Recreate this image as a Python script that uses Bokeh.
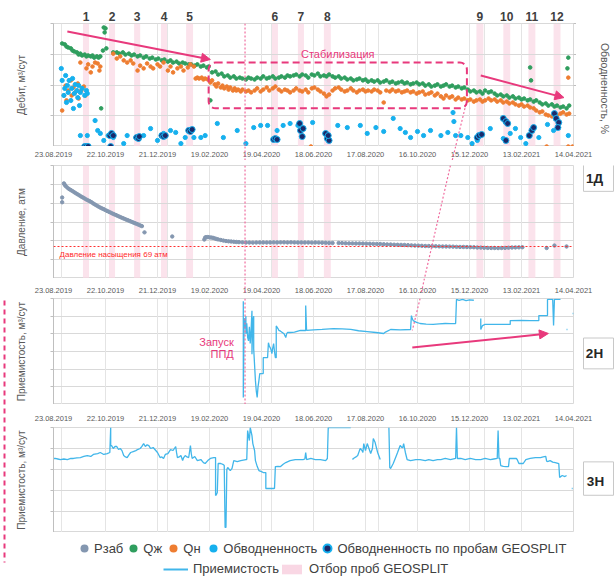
import numpy as np
import pandas as pd
from bokeh.plotting import figure
from bokeh.models import (Range1d, LinearAxis, FixedTicker, ColumnDataSource, Grid,
                          Label, Span, BoxAnnotation, Arrow, NormalHead, Legend, LegendItem)
from bokeh.core.properties import value
from bokeh.layouts import row, column
from bokeh.embed import file_html
from bokeh.resources import INLINE

# ---------------- data ----------------
START = "2019-08-23"
END = "2021-04-14"
x_tick_labels = ["23.08.2019", "22.10.2019", "21.12.2019", "19.02.2020", "19.04.2020", "18.06.2020",
                 "17.08.2020", "16.10.2020", "15.12.2020", "13.02.2021", "14.04.2021"]
sample_labels = ["1", "2", "3", "4", "5", "6", "7", "8", "9", "10", "11", "12"]
band_start = ["2019-09-26", "2019-10-26", "2019-11-24", "2019-12-25", "2020-01-23", "2020-05-01",
              "2020-05-31", "2020-06-30", "2020-12-23", "2021-01-23", "2021-02-21", "2021-03-22"]
band_end = ["2019-10-03", "2019-11-02", "2019-12-01", "2020-01-01", "2020-01-31", "2020-05-08",
            "2020-06-07", "2020-07-08", "2020-12-31", "2021-01-31", "2021-03-01", "2021-03-30"]
launch_date = "2020-03-31"
p_saturation = 69
well_names = ["1Д", "2Н", "3Н"]

# (day since START, value)
q_liquid = [(10,33.5),(13,33.2),(15,32.5),(17,32.2),(20,31.9),(22,31.2),(24,30.9),(27,30.6),(29,29.9),(31,30.2),
 (33,29.6),(36,29.9),(38,29.3),(40,29.6),(43,29.3),(45,29.6),(47,28.9),(50,29.3),(52,28.9),(54,29.3),
 (55,12.4),(57,31.2),(58,38.7),(59,37.1),(60,38.4),(61,31.9),
 (69,30.6),(73,30.6),(76,30.2),(80,30.6),(83,29.9),(87,30.2),(90,29.6),(93,29.9),(97,29.3),(100,29.6),
 (104,28.9),(107,29.3),(111,28.6),(114,28.9),(118,28.3),(121,28.6),(125,28.0),(128,28.3),(132,27.6),(135,28.0),
 (138,27.3),(142,27.6),(145,27.0),(149,27.3),(152,27.0),(156,26.7),(159,26.7),(163,26.3),(166,26.7),(170,26.0),
 (173,26.3),(177,25.7),(179,26.0),(181,15.0),
 (183,24.1),(187,24.4),(190,23.4),(194,23.7),(197,22.8),(201,23.1),(204,22.4),(208,22.8),(211,22.1),(215,22.4),
 (218,22.1),(222,21.8),(225,22.4),(228,22.1),(232,21.8),(235,22.4),(239,22.1),(242,22.8),(246,22.1),(249,22.4),
 (253,22.8),(256,22.1),(260,22.4),(263,22.8),(267,22.4),(270,23.1),(273,22.8),(277,23.1),(280,23.4),(284,22.8),
 (287,23.4),(291,23.1),(294,22.4),(298,23.4),(301,23.1),(305,23.7),(308,22.8),(312,23.1),(315,22.8),(318,23.4),
 (322,22.8),(325,22.4),(329,22.8),(332,22.1),(336,22.4),(339,21.8),(343,22.1),(346,21.5),(350,21.8),(353,22.1),
 (357,21.5),(360,21.8),(363,21.1),(367,21.5),(370,21.1),(374,21.5),(377,20.8),(381,21.1),(384,21.5),(388,20.8),
 (391,21.1),(395,20.5),(398,20.8),(402,21.1),(405,20.5),(408,20.8),(412,20.2),(415,20.5),(419,20.8),(422,20.2),
 (426,20.5),(429,19.8),(433,20.2),(436,19.5),(440,19.8),(443,20.2),(447,19.5),(450,19.8),(453,20.2),(457,19.5),
 (460,19.8),(464,19.2),(467,19.5),(471,18.9),(474,19.2),(478,18.5),(481,17.9),(485,18.2),(488,17.6),(492,17.9),
 (495,17.2),(498,18.2),(502,17.6),(505,17.9),(509,17.2),(512,16.6),(516,16.9),(519,16.3),(523,16.6),(526,15.9),
 (530,16.3),(533,15.6),(537,15.9),(540,15.3),(543,15.6),(547,15.0),(550,15.3),(554,14.6),(557,15.0),(561,14.3),
 (564,13.7),(568,14.0),(571,13.3),(575,13.7),(578,13.0),(581,13.3),(585,12.7),(588,13.0),(592,12.4),(595,13.3),
 (550,25.7),(551,21.5),(594,28.9),(593,25.4)]

q_oil = [(10,11.7),(12,16.6),(14,19.8),(15,15.0),(17,18.2),(20,21.5),(21,16.6),(23,19.2),(25,17.6),(28,20.5),
 (29,15.6),(31,27.3),(32,18.2),(35,19.5),(37,16.6),(38,25.4),(40,26.7),(43,24.1),(45,26.0),(48,27.3),
 (51,27.0),(53,24.7),(54,26.0),
 (69,30.2),(73,28.6),(77,29.3),(81,28.0),(85,27.3),(89,28.0),(92,27.0),(97,24.7),(100,26.3),(104,25.4),
 (108,27.0),(112,26.0),(115,25.4),(120,26.7),(123,26.0),(127,27.3),(132,24.7),(135,26.0),(138,24.1),(143,25.4),
 (147,26.0),(150,24.7),(155,25.7),(158,26.7),(162,26.0),
 (164,22.1),(166,22.4),(168,22.1),(171,22.4),(173,21.8),(175,22.1),(178,21.8),
 (181,20.8),(183,21.5),(186,20.2),(188,19.5),(190,20.5),(193,19.2),(195,19.8),(197,18.9),(200,19.5),(202,18.5),
 (204,19.2),(207,18.2),(209,18.9),(211,18.2),(213,18.5),(216,17.9),(218,18.5),(222,17.9),(225,18.2),(228,17.6),
 (232,18.2),(235,18.9),(239,17.9),(242,18.5),(246,19.2),(249,18.2),(253,18.9),(256,19.5),(260,18.5),(263,17.9),
 (267,18.5),(270,18.2),(273,17.6),(277,18.2),(280,18.9),(284,18.2),(287,17.9),(291,18.5),(294,17.6),(298,18.9),
 (301,19.2),(305,18.5),(308,17.9),(312,17.2),(315,16.3),(318,16.9),(322,18.2),(325,18.9),(329,19.2),(332,18.5),
 (336,17.9),(339,18.2),(343,18.9),(346,18.2),(350,17.6),(353,18.2),(357,18.5),(360,17.9),(363,18.2),(367,17.9),
 (370,18.5),(374,18.2),(377,17.6),(381,14.3),(384,18.2),(388,17.9),(391,18.5),(395,17.9),(398,18.2),(402,17.6),
 (405,17.9),(408,18.2),(412,17.6),(415,17.9),(419,17.2),(422,17.6),(426,17.9),(429,16.9),(433,17.2),(436,17.6),
 (440,16.6),(443,17.2),(447,16.3),(450,15.6),(453,16.6),(457,15.9),(460,16.3),(464,15.3),(467,15.9),(471,15.3),
 (474,15.6),(478,15.0),(481,15.3),(485,14.6),(488,15.0),(492,15.3),(495,14.6),(498,15.0),(502,15.6),(505,15.0),
 (509,15.3),(512,14.6),(516,15.0),(519,14.3),(523,14.6),(526,14.0),(530,14.3),(533,13.7),(537,13.3),(540,13.7),
 (543,13.0),(547,13.3),(550,12.7),(554,12.4),(557,11.7),(561,11.1),(564,11.4),(568,10.4),(571,10.1),(575,9.8),
 (578,10.4),(581,10.1),(585,10.7),(588,11.1),(592,10.4),(595,10.7),
 (594,22.4),(297,0.0),(483,0.0),(569,0.0),(594,0.0),(599,0.0)]

water_cut = [(9,63.4),(10,53.7),(12,41.5),(13,47.2),(14,57.7),(15,35.8),(16,49.6),(17,43.9),(18,53.7),(20,37.4),
 (21,47.2),(22,55.3),(23,30.9),(24,43.1),(25,50.4),(27,45.5),(28,39.8),(29,49.6),(30,33.3),(31,43.9),
 (33,47.2),(36,41.5),(38,45.5),(39,43.1),
 (31,8.9),(39,8.9),(48,21.1),(51,13.0),(54,10.6),(58,4.9),(63,8.9),(69,7.3),(81,2.4),(85,8.9),
 (95,7.3),(104,8.9),(112,14.6),(120,4.9),(127,10.6),(135,13.0),(141,11.4),(147,2.4),(152,7.3),(162,7.3),
 (170,7.3),(175,8.9),(189,18.7),(196,7.3),(212,13.0),(222,2.4),(231,15.4),(239,17.1),(247,17.1),(258,13.0),
 (265,17.1),(273,18.7),(282,17.1),(299,19.5),(328,17.1),(339,15.4),(354,17.1),(362,10.6),(372,15.4),(381,12.2),
 (392,22.8),(400,14.6),(406,11.4),(412,7.3),(420,12.2),(427,8.9),(435,13.0),(447,8.9),(455,11.4),(461,27.6),
 (462,20.3),(464,8.9),(470,8.9),(478,7.3),(483,2.4),(489,4.9),(504,14.6),(519,6.5),(527,10.6),(533,14.6),
 (539,7.3),(545,2.4),(560,7.3),(570,17.9),(577,13.0),(594,8.9)]

water_cut_geosplit = [(36,0.0),(38,0.0),(40,0.0),(65,8.9),(67,10.6),(69,8.9),(66,0.0),(96,7.3),(98,6.5),(99,8.1),
 (125,8.9),(127,8.1),(129,8.9),(156,13.0),(158,12.2),(160,13.8),(254,5.7),(256,6.5),(258,5.7),
 (284,18.7),(285,13.0),(287,8.1),(288,14.6),(314,10.6),(316,6.5),(318,4.9),(317,8.9),
 (489,7.3),(491,8.9),(494,9.8),(519,22.8),(522,20.3),(524,18.7),(522,4.9),(549,8.9),(552,13.0),(554,15.4),
 (578,26.8),(580,22.8),(583,19.5),(582,15.4)]

p_bottom = [(10,121),(10,116),(12,136.0),(13,134.5),(14,133.2),(16,131.5),(18,130.0),(20,128.9),(22,127.8),(24,126.6),
 (26,125.4),(28,124.3),(30,123.2),(32,122.0),(34,121.0),(36,119.9),(38,118.8),(40,117.9),(42,117.0),(44,115.9),
 (46,114.6),(48,113.5),(50,112.4),(52,111.3),(54,110.3),(56,109.4),(58,108.6),(60,107.6),(62,106.7),(64,105.8),
 (66,104.9),(68,104.0),(70,103.2),(72,102.4),(74,101.5),(76,100.7),(78,99.9),(80,99.1),(82,98.3),(84,97.5),
 (86,96.8),(88,96.0),(90,95.2),(92,94.5),(94,93.7),(96,93.0),(98,92.2),(100,91.4),(102,90.6),(105,84.0),(137,79.6),
 (174,76.4),(175,78.5),(176,78.8),(178,79.0),(180,78.7),(182,78.5),(184,78.2),(186,77.6),(188,77.0),(190,76.5),
 (193,75.9),(196,75.3),(199,74.8),(202,74.5),(205,74.3),(208,74.0),(211,73.8),(214,73.6),(218,73.4),(222,73.2),
 (226,73.2),(230,73.1),(234,73.2),(238,73.3),(242,73.3),(246,73.2),(250,73.3),(254,73.4),(258,73.3),(262,73.4),
 (266,73.4),(270,73.3),(274,73.4),(278,73.3),(282,73.2),(286,73.3),(290,73.2),(294,73.2),(298,73.1),(302,73.2),
 (306,73.1),(310,73.0),(314,72.9),(318,72.8),(322,72.7),(329,72.7),(333,72.6),(337,72.4),(341,72.3),(345,72.3),
 (349,72.2),(353,72.2),(357,72.1),(361,72.0),(365,71.9),(369,71.8),(373,71.7),(377,71.6),(381,71.4),(385,71.2),
 (389,71.1),(393,70.9),(397,70.8),(401,70.7),(405,70.6),(409,70.4),(413,70.2),(417,70.0),(421,69.9),(425,69.7),
 (429,69.5),(433,69.5),(437,69.4),(441,69.3),(445,69.1),(449,69.0),(453,69.0),(457,68.9),(461,68.8),(465,68.6),
 (469,68.5),(473,68.5),(477,68.4),(481,68.3),(485,68.2),(489,67.9),(493,67.8),(497,67.6),(501,67.5),(505,67.4),
 (509,67.4),(513,67.3),(517,67.4),(521,67.5),(525,67.7),(529,67.9),(533,68.0),(537,68.1),(541,68.2),
 (569,67.4),(578,70.0),(592,69.0)]

inj_2h = [(219,117),(219,8),(220,98),(221,86),(222,100),(222,80),(223,92),(224,76),(225,72),(226,88),(227,69),
 (228,85),(229,106),(229,57),(230,95),(231,100),(231,63),(232,45),(233,27),(234,15),(235,8),(236,20),(237,27),
 (238,35),(241,35),(242,35),(242,53),(246,53),(247,53),(248,70),(249,66),(250,64.5),(251,62),(252,57.7),(253,64),
 (254,69),(255,60),(256,53),(257,53),(257,89),(259,86),(260,84),(262,83),(264,81.5),(266,80),(268,75.8),(269,80),
 (270,81.5),(273,81.5),(278,82),(285,83.8),(291,83.8),(291,112),(292,84),(300,84.5),(310,85),(323,86),(333,85.5),
 (343,85),(352,83.5),(362,82.6),(372,81.5),(381,80.4),(383,82),(389,84.9),(400,84.5),(412,84.9),(413,100.7),
 (414,97),(415,95),(419,93),(423,91.7),(430,91),(438,90.6),(445,91.2),(452,91.7),(458,91.5),(464,91.7),(465,119),
 (468,118),(472,119),(476,117.5),(480,118.5),(485,118),(486,None),
 (493,97.4),(493,84.9),(495,89.4),(498,90.6),(501,90.6),(510,90.8),(520,90.6),(527,90.6),(527,95),(540,95.2),
 (550,95),(560,95),(560,100.7),(565,100.7),(570,100.7),(570,119),(576,119),(577,89.4),(578,119),(585,119),(586,None),
 (592,84.9),(593,84.9),(594,None),(599,103),(600,103)]

inj_3h = [(0,70.5),(2,70.5),(5,70),(8,69.5),(12,70),(16,69.5),(20,70.5),(23,70.5),(27,71),(31,71.4),(35,72.4),
 (39,73.3),(43,72.4),(46,74.3),(51,75.2),(54,76.2),(58,74.3),(62,75.2),(65,76.2),(66,100),(66,82.8),(67,82.8),
 (69,80),(71,82),(73,81.9),(75,79),(77,80),(79,78),(81,73.3),(83,72),(85,71.4),(87,74),(89,76.2),(92,77.1),
 (95,78),(97,79),(100,80),(102,82),(104,84.7),(106,81.9),(108,83.5),(110,82.8),(112,80),(115,80.9),(118,78.1),
 (120,76.2),(123,71.4),(125,72),(127,70.5),(129,74.3),(132,75.2),(135,79),(138,78.1),(141,81.9),(142,76),
 (143,71.4),(145,72),(147,73.3),(149,68.5),(150,71),(152,73.3),(154,72),(156,71.4),(158,82.8),(159,75),
 (160,70.5),(163,72.4),(166,68.5),(168,69),(170,69.5),(173,66.6),(175,65.7),(178,68.5),(181,70.5),(185,71.4),
 (187,71.4),(187,35.2),(188,36.2),(189,38.1),(190,65.7),(193,65.7),(196,64.7),(197,63.8),(198,4.8),(199,4.8),
 (200,60),(201,61.9),(204,59),(206,61),(208,68.5),(212,67.6),(216,68.5),(219,69),(222,69.5),(223,69.5),
 (224,97.1),(226,87.6),(227,100),(229,92.3),(230,84.7),(232,78.1),(233,68.5),(235,63),(237,59),(240,58),
 (242,57.1),(245,57.1),(245,41.9),(250,41.9),(254,41.9),(255,42),(256,62.8),(259,63),(262,62.8),(265,65),
 (268,66.6),(273,68.5),(279,69.5),(285,69.5),(288,69.5),(290,70),(291,76.2),(292,69.5),(297,70.5),(302,69.5),
 (308,69.5),(314,68.5),(316,70.5),(317,100),(325,100),(335,100),(343,100),(344,None),
 (345,69.5),(346,70.5),(349,72),(351,73.3),(353,78),(354,80),(356,78),(357,76.2),(358,84.7),(360,78.1),
 (362,84.7),(364,80),(366,75.2),(368,80),(369,89.5),(371,86),(372,82.8),(374,76.2),(377,69.5),(378,None),
 (387,100),(388,61.9),(389,61),(392,65.7),(395,72),(397,76.2),(400,82.8),(402,81),(403,80.9),(404,84.7),
 (406,76.2),(408,69.5),(412,68.5),(418,69.5),(423,69.5),(429,68.5),(433,69.5),(438,68.5),(443,69.5),(447,69.5),
 (452,70.5),(458,69.5),(464,70.5),(465,100),(466,70.5),(470,70.5),(475,69.5),(481,70.5),(487,69.5),(493,69.5),
 (498,70.5),(504,69.5),(508,70),(512,70.5),(513,97.1),(514,70.5),(515,70.5),(516,63.8),(519,63),(522,62.8),
 (525,62.8),(526,70.5),(531,70.5),(534,70.5),(535,69.5),(537,65.7),(542,65.7),(545,69.5),(550,70.5),(556,71.4),
 (562,71.4),(565,72),(568,72.4),(569,68),(570,67.6),(573,68.5),(576,67),(579,66.6),(583,65.7),(584,52.4),
 (587,54.3),(590,53.3),(592,54.3),(593,None),(598,41.9),(599,41.9)]

# ---------------- style / layout ----------------
FONT = "Liberation Sans"
C_GREEN = "#2f9e5e"
C_ORANGE = "#ee7d31"
C_BLUE = "#16b0ee"
C_NAVY = "#1b2a6b"
C_PRES = "#8497b0"
C_INJ = "#41b6ea"
C_PINK = "#e8397c"
C_PINK_L = "#f06c9f"
C_BAND = "#f9d7e4"
C_GRID = "#d9d9d9"
C_TEXT = "#595959"

FULL_W = 607      # page x 8..615
MAIN_W = 568      # main panels: x 8..576, frame 53..573
SIDE_W = 39       # right strips: x 576..615
BORDER_L = 45
PX_PER_DAY = 520 / 600
t0 = pd.Timestamp(START)


def to_dt(days):
    return (t0 + pd.to_timedelta(np.asarray(days, dtype=float), unit="D")).values


def day_ms(d):
    return (t0 + pd.Timedelta(days=d)).value / 1e6


def date_ms(s):
    return pd.Timestamp(s).value / 1e6


def src(pairs):
    days = [d for d, v in pairs]
    vals = [np.nan if v is None else v for d, v in pairs]
    return ColumnDataSource(dict(x=to_dt(days), y=vals))


tick_ms = [date_ms(pd.to_datetime(s, format="%d.%m.%Y")) for s in x_tick_labels]
xr = Range1d(start=date_ms(START), end=date_ms(END))
# same time scale, but spanning the full page width (for label strips)
xr_full = Range1d(start=day_ms(-BORDER_L / PX_PER_DAY), end=day_ms((FULL_W - BORDER_L) / PX_PER_DAY))
band_src = ColumnDataSource(dict(left=pd.to_datetime(band_start).values, right=pd.to_datetime(band_end).values))


def bare(width, height, xrange, yrange):
    p = figure(width=width, height=height, x_range=xrange, y_range=yrange, output_backend="svg",
               toolbar_location=None, min_border=0, x_axis_location=None, y_axis_location=None)
    p.grid.visible = False
    p.outline_line_color = None
    p.background_fill_color = "white"
    p.border_fill_color = "white"
    return p


def style_yaxis(ax, ticks, label, standoff):
    ax.ticker = FixedTicker(ticks=ticks)
    ax.major_label_overrides = {t: "" for t in ticks}
    ax.major_label_text_font_size = "0px"
    ax.major_label_standoff = 0
    ax.major_tick_line_color = "#bfbfbf"
    ax.major_tick_out = 3
    ax.major_tick_in = 0
    ax.minor_tick_line_color = None
    ax.axis_label = label
    ax.axis_label_text_font = FONT
    ax.axis_label_text_font_size = "10px"
    ax.axis_label_text_font_style = "normal"
    ax.axis_label_text_color = C_TEXT
    ax.axis_label_standoff = standoff


def make_fig(height, ymin, ymax, yticks, top, ylabel):
    p = figure(width=MAIN_W, height=height, x_range=xr, y_range=Range1d(ymin, ymax), x_axis_type="datetime",
               x_axis_location=None, output_backend="svg", toolbar_location=None, min_border_left=BORDER_L,
               min_border_right=3, min_border_top=top, min_border_bottom=0)
    p.outline_line_color = C_GRID
    p.background_fill_color = "white"
    p.border_fill_color = "white"
    ya = p.yaxis[0]
    style_yaxis(ya, yticks, ylabel, 24)
    ya.axis_line_color = "#bfbfbf"
    p.ygrid.ticker = FixedTicker(ticks=yticks)
    p.ygrid.grid_line_color = C_GRID
    p.add_layout(Grid(dimension=0, ticker=FixedTicker(ticks=tick_ms), grid_line_color="#e4e4e4"))
    return p


def date_strip(height, label_y, launch=True, link=None):
    d = bare(FULL_W, height, xr_full, Range1d(height, 0))
    d.text(x=tick_ms, y=label_y, text=x_tick_labels, text_align="center", text_baseline="middle",
           text_font=value(FONT), text_font_size="7.5px", text_color=C_TEXT)
    if launch:
        lm = date_ms(launch_date)
        d.segment(x0=[lm], y0=[0], x1=[lm], y1=[height], line_color=C_PINK_L, line_dash="2 2", line_width=1.2)
    if link is not None:
        d.segment(x0=[day_ms(link[0])], y0=[0], x1=[day_ms(link[1])], y1=[height], line_color=C_PINK_L,
                  line_dash="2 2", line_width=1.2)
    return d


def side_strip(y_top, y_bottom, name=None, box=None):
    # right-hand strip, ranges in page pixels (x 576..615, y from top)
    s = bare(SIDE_W, y_bottom - y_top, Range1d(576, 615), Range1d(y_bottom, y_top))
    if name is not None:
        bx0, by0, bx1, by1, tx, ty = box
        s.quad(left=bx0, right=bx1, top=by0, bottom=by1, fill_color="white", line_color="#c8c8c8", line_width=1)
        s.text(x=tx, y=ty, text=value(name), text_align="center", text_baseline="middle",
               text_font=value(FONT), text_font_style="bold", text_font_size="13.5px", text_color="#262626")
    return s


# ---------------- numbers strip (sampling campaigns) ----------------
pn = bare(FULL_W, 23, xr_full, Range1d(23, 0))
centers = [(date_ms(a) + date_ms(b)) / 2 for a, b in zip(band_start, band_end)]
pn.text(x=centers, y=16, text=sample_labels, text_align="center", text_baseline="middle",
        text_font=value(FONT), text_font_style="bold", text_font_size="12px", text_color="#404040")

# ---------------- panel 1: rates ----------------
Q_MIN, Q_MAX = 0, 40
p1 = make_fig(123, Q_MIN, Q_MAX, [0, 10, 20, 30, 40], 0, "Дебит, м³/сут")
p1.extra_y_ranges = {"wc": Range1d(0, 100)}
ra = LinearAxis(y_range_name="wc")
style_yaxis(ra, [0, 25, 50, 75, 100], None, 0)
ra.axis_line_color = None
p1.add_layout(ra, "right")

p1.quad(left="left", right="right", bottom=Q_MIN, top=Q_MAX, source=band_src, fill_color=C_BAND,
        fill_alpha=0.7, line_color=None, level="underlay")
p1.scatter("x", "y", source=src(q_liquid), marker="circle", size=3.6, color=C_GREEN)
p1.scatter("x", "y", source=src(q_oil), marker="circle", size=3.6, color=C_ORANGE)
p1.scatter("x", "y", source=src(water_cut), marker="circle", size=4.2, color=C_BLUE, y_range_name="wc")
p1.scatter("x", "y", source=src(water_cut_geosplit), marker="circle", size=6, fill_color=C_NAVY,
           line_color=C_BLUE, line_width=1, y_range_name="wc")

p1.add_layout(BoxAnnotation(left=day_ms(179), right=day_ms(477), top=27.3, bottom=12.4, fill_color=None,
                            fill_alpha=0, line_color=C_PINK, line_alpha=1, line_width=2, line_dash="7 4",
                            border_radius=7))
p1.add_layout(Label(x=day_ms(328), y=30.2, text="Стабилизация", text_align="center", text_baseline="middle",
                    text_font=FONT, text_font_size="11px", text_color=C_PINK))
p1.add_layout(Arrow(end=NormalHead(size=9, fill_color=C_PINK, line_color=C_PINK), x_start=day_ms(16),
                    y_start=37.4, x_end=day_ms(181), y_end=28.3, line_color=C_PINK, line_width=2))
p1.add_layout(Arrow(end=NormalHead(size=9, fill_color=C_PINK, line_color=C_PINK), x_start=day_ms(493),
                    y_start=23.1, x_end=day_ms(589), y_end=15.9, line_color=C_PINK, line_width=2))
p1.add_layout(Span(location=date_ms(launch_date), dimension="height", line_color=C_PINK_L, line_dash="2 2",
                   line_width=1.2))
p1.segment(x0=[day_ms(477)], y0=[15.0], x1=[day_ms(464)], y1=[Q_MIN], line_color=C_PINK_L, line_dash="2 2",
           line_width=1.2)

b1 = side_strip(23, 146)
b1.text(x=604, y=88, text=value("Обводненность, %"), angle=-np.pi / 2, text_align="center",
        text_baseline="middle", text_font=value(FONT), text_font_size="10.5px", text_color=C_TEXT)

d1 = date_strip(14, 8, link=(464, 460))

# ---------------- panel 2: pressure ----------------
P_MIN, P_MAX = 35, 155
p2 = make_fig(118, P_MIN, P_MAX, [35, 55, 75, 95, 115, 135, 155], 5, "Давление, атм")
p2.quad(left="left", right="right", bottom=P_MIN, top=P_MAX, source=band_src, fill_color=C_BAND,
        fill_alpha=0.7, line_color=None, level="underlay")
p2.add_layout(Span(location=p_saturation, dimension="width", line_color="#ff3030", line_dash="2 2",
                   line_width=1.2))
p2.add_layout(Label(x=day_ms(7), y=60.5, text=f"Давление насыщения {p_saturation} атм", text_align="left",
                    text_baseline="middle", text_font=FONT, text_font_size="8px", text_color="#ff2a2a"))
p2.scatter("x", "y", source=src(p_bottom), marker="circle", size=3.4, color=C_PRES)
p2.add_layout(Span(location=date_ms(launch_date), dimension="height", line_color=C_PINK_L, line_dash="2 2",
                   line_width=1.2))
p2.segment(x0=[day_ms(458)], y0=[P_MAX], x1=[day_ms(428)], y1=[P_MIN], line_color=C_PINK_L, line_dash="2 2",
           line_width=1.2)
b2 = side_strip(160, 278, well_names[0], (583, 158, 613, 187, 594, 174))

d2 = date_strip(16, 12, link=(428, 424))

# ---------------- panel 3: injection 2H ----------------
I2_MIN, I2_MAX = 0, 120
p3 = make_fig(110, I2_MIN, I2_MAX, [0, 20, 40, 60, 80, 100, 120], 4, "Приемистость, м³/сут")
p3.add_layout(Span(location=date_ms(launch_date), dimension="height", line_color=C_PINK_L, line_dash="2 2",
                   line_width=1.2))
p3.line("x", "y", source=src(inj_2h), line_color=C_INJ, line_width=1.3)
p3.segment(x0=[day_ms(423)], y0=[I2_MAX], x1=[day_ms(414)], y1=[83.8], line_color=C_PINK_L, line_dash="2 2",
           line_width=1.2)
p3.add_layout(Label(x=day_ms(208), y=71.3, text="Запуск", text_align="right", text_baseline="middle",
                    text_font=FONT, text_font_size="11px", text_color=C_PINK))
p3.add_layout(Label(x=day_ms(208), y=57.7, text="ППД", text_align="right", text_baseline="middle",
                    text_font=FONT, text_font_size="11px", text_color=C_PINK))
p3.add_layout(Arrow(end=NormalHead(size=9, fill_color=C_PINK, line_color=C_PINK), x_start=day_ms(414),
                    y_start=64.5, x_end=day_ms(571), y_end=80.4, line_color=C_PINK, line_width=2))
b3 = side_strip(294, 404, well_names[1], (583, 335, 613, 367, 594, 351))

d3 = date_strip(18, 14, launch=False)

# ---------------- panel 4: injection 3H ----------------
p4 = make_fig(110, 0, 100, [0, 20, 40, 60, 80, 100], 5, "Приемистость, м³/сут")
p4.line("x", "y", source=src(inj_3h), line_color=C_INJ, line_width=1.3)
b4 = side_strip(422, 532, well_names[2], (583, 458, 613, 493, 595, 479))

# ---------------- legend strip ----------------
p5 = bare(FULL_W, 44, Range1d(0, 1), Range1d(0, 1))
OFF = [-5]  # legend-only glyphs, kept outside the visible range
d_p = p5.scatter(x=OFF, y=OFF, marker="circle", size=8, fill_color=C_PRES, line_color=None)
d_q = p5.scatter(x=OFF, y=OFF, marker="circle", size=8, fill_color=C_GREEN, line_color=None)
d_o = p5.scatter(x=OFF, y=OFF, marker="circle", size=8, fill_color=C_ORANGE, line_color=None)
d_w = p5.scatter(x=OFF, y=OFF, marker="circle", size=8, fill_color=C_BLUE, line_color=None)
d_n = p5.scatter(x=OFF, y=OFF, marker="circle", size=8, fill_color=C_NAVY, line_color=C_BLUE, line_width=2)
d_l = p5.line(x=[-5, -4], y=[-5, -4], line_color=C_INJ, line_width=2)
d_b = p5.quad(left=OFF, right=[-4], top=[-4], bottom=OFF, fill_color=C_BAND, line_color=None)

leg_common = dict(orientation="horizontal", label_text_font=FONT, label_text_font_size="13px",
                  label_text_color="#404040", border_line_color=None, background_fill_alpha=0,
                  margin=0, padding=0, label_height=14)
leg1 = Legend(items=[LegendItem(label="Рзаб", renderers=[d_p]), LegendItem(label="Qж", renderers=[d_q]),
                     LegendItem(label="Qн", renderers=[d_o]), LegendItem(label="Обводненность", renderers=[d_w]),
                     LegendItem(label="Обводненность по пробам GEOSPLIT", renderers=[d_n])],
              location=(66, 18), glyph_width=20, glyph_height=20, label_standoff=-4, spacing=-4, **leg_common)
leg2 = Legend(items=[LegendItem(label="Приемистость", renderers=[d_l]),
                     LegendItem(label="Отбор проб GEOSPLIT", renderers=[d_b])],
              location=(155, 0), glyph_width=25, glyph_height=12, label_standoff=5, spacing=-12, **leg_common)
p5.add_layout(leg1)
p5.add_layout(leg2)

# ---------------- left bracket (injection wells) ----------------
p0 = bare(8, 576, Range1d(0, 8), Range1d(576, 0))
p0.line(x=[4, 4], y=[300, 562], line_color=C_PINK, line_width=2, line_dash="5 4")

layout = row(p0, column(pn, row(p1, b1), d1, row(p2, b2), d2, row(p3, b3), d3, row(p4, b4), p5))
open("out.html", "w").write(file_html(layout, INLINE))
